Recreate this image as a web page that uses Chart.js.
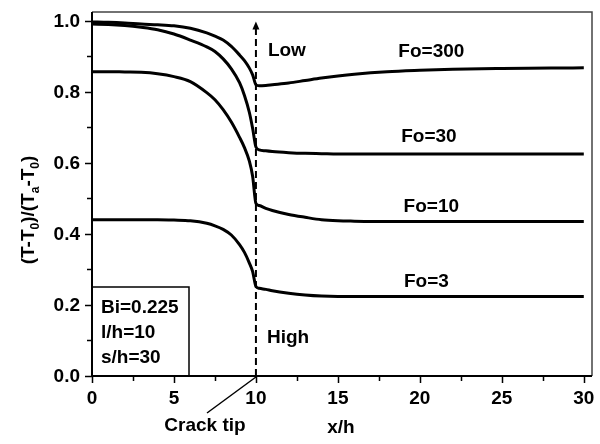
<!DOCTYPE html>
<html>
<head>
<meta charset="utf-8">
<script src="https://cdn.jsdelivr.net/npm/chart.js@4.4.0/dist/chart.umd.min.js"></script>
<style>
  html, body { margin: 0; padding: 0; background: #fff; }
</style>
</head>
<body>
<canvas id="chart" width="600" height="444"></canvas>
<script>
// x/h positions shared by all curves
const xh = [0, 1, 2, 3, 4, 5, 6, 7, 7.5, 8, 8.5, 9, 9.3, 9.6, 9.8, 10,
  10.2, 10.6, 11, 12, 13, 14, 15, 16, 18, 20, 22, 25, 28, 30];

// (T-T0)/(Ta-T0)
const fo300 = [0.997, 0.996, 0.994, 0.991, 0.989, 0.986, 0.979, 0.966, 0.957, 0.946, 0.928, 0.904, 0.888, 0.867, 0.848, 0.820,
  0.817, 0.818, 0.820, 0.825, 0.832, 0.839, 0.845, 0.850, 0.857, 0.861, 0.864, 0.866, 0.867, 0.868];
const fo30 = [0.991, 0.990, 0.987, 0.982, 0.975, 0.963, 0.946, 0.927, 0.914, 0.893, 0.865, 0.826, 0.790, 0.742, 0.697, 0.645,
  0.637, 0.634, 0.632, 0.629, 0.627, 0.626, 0.625, 0.625, 0.625, 0.625, 0.625, 0.625, 0.625, 0.625];
const fo10 = [0.857, 0.857, 0.856, 0.855, 0.851, 0.843, 0.829, 0.798, 0.778, 0.750, 0.715, 0.672, 0.643, 0.605, 0.562, 0.486,
  0.480, 0.472, 0.466, 0.455, 0.447, 0.440, 0.437, 0.436, 0.435, 0.435, 0.435, 0.435, 0.435, 0.435];
const fo3 = [0.440, 0.440, 0.440, 0.440, 0.440, 0.439, 0.437, 0.430, 0.423, 0.413, 0.397, 0.370, 0.348, 0.318, 0.294, 0.252,
  0.247, 0.244, 0.240, 0.233, 0.228, 0.225, 0.224, 0.224, 0.224, 0.224, 0.224, 0.224, 0.224, 0.224];

const xTicks = [0, 5, 10, 15, 20, 25, 30];
const yTicks = [0, 0.2, 0.4, 0.6, 0.8, 1.0];

const FONT = '"Liberation Sans", Arial, sans-serif';

function toPts(ys) {
  return xh.map((x, i) => ({ x: x, y: ys[i] }));
}

function curve(label, ys) {
  return {
    label: label,
    data: toPts(ys),
    borderColor: "#000",
    borderWidth: 3,
    pointRadius: 0,
    cubicInterpolationMode: "monotone",
    fill: false
  };
}

const decorations = {
  id: "decorations",
  afterDraw(chart) {
    const { ctx, chartArea: a, scales: { x, y } } = chart;
    ctx.save();
    ctx.strokeStyle = "#000";
    ctx.fillStyle = "#000";

    // frame
    ctx.lineWidth = 1.5;
    ctx.strokeStyle = "#444";
    ctx.beginPath();
    ctx.moveTo(a.left, a.top);
    ctx.lineTo(a.right, a.top);
    ctx.lineTo(a.right, a.bottom);
    ctx.stroke();
    ctx.strokeStyle = "#000";
    ctx.lineWidth = 2;
    ctx.beginPath();
    ctx.moveTo(a.left, a.top);
    ctx.lineTo(a.left, a.bottom);
    ctx.lineTo(a.right, a.bottom);
    ctx.stroke();

    // ticks, major every 5 / 0.2, minor halfway
    ctx.lineWidth = 1.5;
    ctx.beginPath();
    for (let i = 0; i <= 12; i++) {
      const px = Math.round(x.getPixelForValue(i * 2.5)) + 0.5;
      ctx.moveTo(px, a.bottom);
      ctx.lineTo(px, a.bottom + (i % 2 === 0 ? 7 : 5));
    }
    for (let i = 0; i <= 10; i++) {
      const py = Math.round(y.getPixelForValue(i / 10)) + 0.5;
      ctx.moveTo(a.left, py);
      ctx.lineTo(a.left - (i % 2 === 0 ? 7 : 5), py);
    }
    ctx.stroke();

    // tick labels
    ctx.font = "bold 19px " + FONT;
    ctx.textAlign = "center";
    ctx.textBaseline = "middle";
    xTicks.forEach(v => ctx.fillText(String(v), x.getPixelForValue(v), 399));
    ctx.textAlign = "right";
    yTicks.forEach(v => ctx.fillText(v.toFixed(1), 80, y.getPixelForValue(v) + 1));

    // x title
    ctx.textAlign = "center";
    ctx.fillText("x/h", 341, 428);

    // y title with subscripts
    ctx.save();
    ctx.translate(28, 0);
    ctx.rotate(-Math.PI / 2);
    const parts = [["(T-T", 0], ["0", 1], [")/(T", 0], ["a", 1], ["-T", 0], ["0", 1], [")", 0]];
    let total = 0;
    parts.forEach(p => {
      ctx.font = (p[1] ? "bold 12px " : "bold 19px ") + FONT;
      total += ctx.measureText(p[0]).width;
    });
    let cx = -210 - total / 2;
    ctx.textAlign = "left";
    ctx.textBaseline = "alphabetic";
    parts.forEach(p => {
      ctx.font = (p[1] ? "bold 12px " : "bold 19px ") + FONT;
      ctx.fillText(p[0], cx, p[1] ? 11 : 6);
      cx += ctx.measureText(p[0]).width;
    });
    ctx.restore();

    // crack tip: dashed line with arrow
    const cxp = x.getPixelForValue(10);
    const tipY = y.getPixelForValue(0.998);
    ctx.lineWidth = 2;
    ctx.setLineDash([7, 4]);
    ctx.beginPath();
    ctx.moveTo(cxp, a.bottom);
    ctx.lineTo(cxp, tipY + 6);
    ctx.stroke();
    ctx.setLineDash([]);
    ctx.beginPath();
    ctx.moveTo(cxp, tipY);
    ctx.lineTo(cxp - 3.5, tipY + 8);
    ctx.lineTo(cxp + 3.5, tipY + 8);
    ctx.closePath();
    ctx.fill();

    ctx.lineWidth = 1.5;
    ctx.beginPath();
    ctx.moveTo(cxp, a.bottom + 1);
    ctx.lineTo(207, 413);
    ctx.stroke();
    ctx.textAlign = "center";
    ctx.textBaseline = "middle";
    ctx.fillText("Crack tip", 205, 426);

    // curve labels
    ctx.fillText("Fo=300", x.getPixelForValue(20.7), y.getPixelForValue(0.913));
    ctx.fillText("Fo=30", x.getPixelForValue(20.55), y.getPixelForValue(0.673));
    ctx.fillText("Fo=10", x.getPixelForValue(20.7), y.getPixelForValue(0.476));
    ctx.fillText("Fo=3", x.getPixelForValue(20.4), y.getPixelForValue(0.265));
    ctx.textAlign = "left";
    ctx.fillText("Low", x.getPixelForValue(10.73), y.getPixelForValue(0.915));
    ctx.fillText("High", x.getPixelForValue(10.67), y.getPixelForValue(0.107));

    // parameter box
    ctx.lineWidth = 1.5;
    ctx.strokeRect(a.left, 287, 97, a.bottom - 287);
    ctx.fillText("Bi=0.225", 101, 308);
    ctx.fillText("l/h=10", 101, 333);
    ctx.fillText("s/h=30", 101, 358);

    ctx.restore();
  }
};

new Chart(document.getElementById("chart"), {
  type: "line",
  data: {
    datasets: [
      curve("Fo=300", fo300),
      curve("Fo=30", fo30),
      curve("Fo=10", fo10),
      curve("Fo=3", fo3)
    ]
  },
  options: {
    responsive: false,
    animation: false,
    devicePixelRatio: 1,
    layout: { padding: { left: 92, right: 8, top: 12, bottom: 68 } },
    plugins: {
      legend: { display: false },
      tooltip: { enabled: false }
    },
    scales: {
      x: { type: "linear", min: 0, max: 30.5, display: false },
      y: { type: "linear", min: 0, max: 1.025, display: false }
    }
  },
  plugins: [decorations]
});
</script>
</body>
</html>
